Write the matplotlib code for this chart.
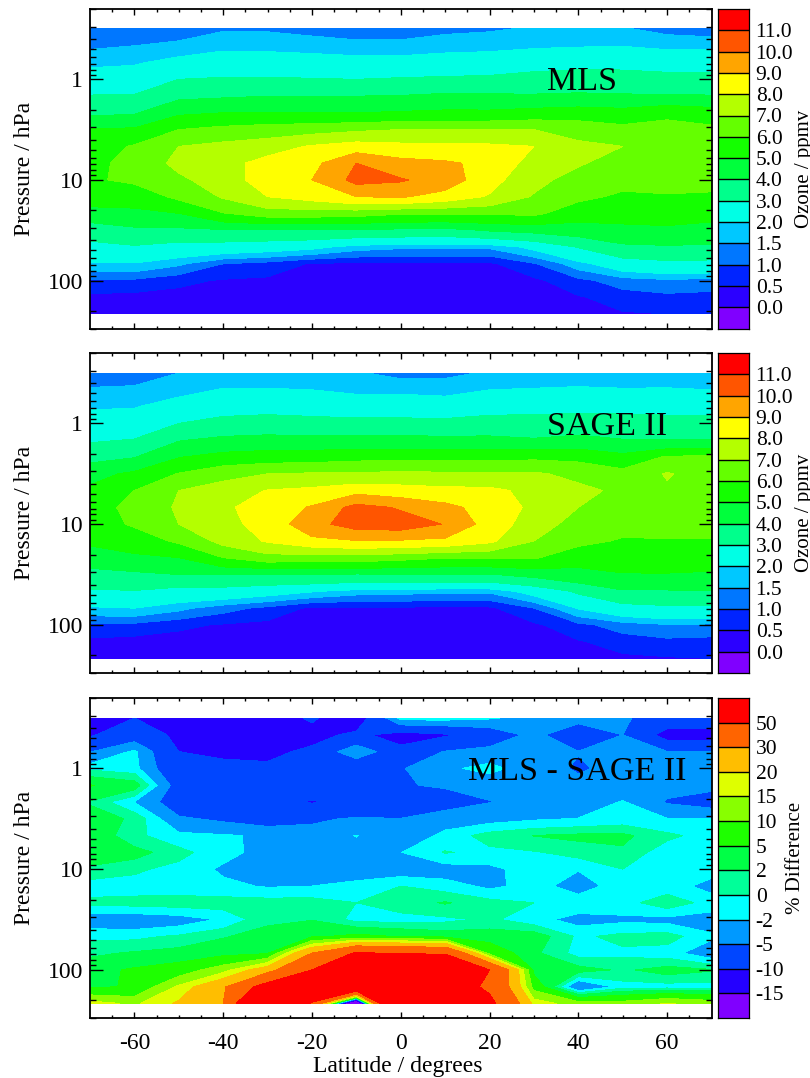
import numpy as np
import matplotlib
matplotlib.use("Agg")
import matplotlib.pyplot as plt
from matplotlib.ticker import FixedLocator, NullFormatter, FixedFormatter

plt.rcParams['font.family'] = ['Liberation Serif', 'DejaVu Serif']
plt.rcParams['axes.unicode_minus'] = False

latitudes = [-70, -60, -50, -40, -30, -20, -10, 0, 10, 20, 30, 40, 50, 60, 70]
pressures = [0.316, 0.464, 0.681, 1.0, 1.47, 2.15, 3.16, 4.64, 6.81, 10.0,
             14.7, 21.5, 31.6, 46.4, 68.1, 100.0, 147.0, 215.0]

# MLS ozone (ppmv), one list per latitude, from 0.316 hPa down to 215 hPa
mls_s70 = [1.1, 1.42, 1.85, 2.4, 3.05, 3.8, 5.1, 5.5, 5.7, 5.9, 5.5, 4.6, 3.4, 2.75, 1.9, .93, .35, .25]
mls_s60 = [1.2, 1.5, 1.92, 2.5, 3.07, 3.9, 5.15, 6.1, 6.35, 6.15, 5.45, 4.75, 3.8, 2.9, 1.95, .9, .3, .25]
mls_s50 = [1.3, 1.6, 2.25, 3.0, 3.8, 4.85, 6.0, 7.0, 7.25, 6.8, 6.2, 5.0, 3.8, 2.6, 1.6, .62, .3, .25]
mls_s40 = [1.45, 1.85, 2.4, 3.1, 3.9, 5.0, 6.3, 7.3, 7.6, 7.5, 7.1, 5.95, 3.9, 2.55, 1.0, .45, .33, .25]
mls_s30 = [1.45, 1.8, 2.45, 3.1, 4.0, 5.05, 6.5, 7.55, 8.4, 8.5, 8.0, 6.5, 3.9, 2.4, .8, .4, .3, .25]
mls_s20 = [1.35, 1.75, 2.35, 3.05, 4.0, 5.0, 6.65, 8.1, 8.7, 9.0, 8.4, 6.5, 3.9, 2.2, .45, .3, .27, .25]
mls_s10 = [1.2, 1.7, 2.25, 3.0, 4.0, 5.0, 6.85, 8.5, 10.0, 10.3, 9.0, 6.4, 3.85, 1.75, .4, .28, .26, .25]
mls_eq = [1.2, 1.7, 2.25, 3.1, 4.05, 5.1, 7.0, 8.3, 9.35, 10.1, 9.1, 6.1, 3.8, 1.6, .4, .28, .26, .25]
mls_n10 = [1.4, 1.75, 2.4, 3.15, 4.2, 5.2, 7.0, 8.25, 9.15, 9.55, 8.6, 6.1, 3.7, 1.6, .4, .28, .26, .25]
mls_n20 = [1.45, 1.8, 2.45, 3.2, 4.15, 5.2, 7.0, 8.2, 8.75, 8.35, 7.9, 6.1, 4.1, 1.6, .4, .28, .26, .25]
mls_n30 = [1.55, 1.9, 2.6, 3.4, 4.1, 5.4, 7.0, 8.0, 7.6, 7.3, 6.9, 6.2, 4.3, 2.2, .95, .38, .3, .25]
mls_n40 = [1.65, 1.95, 2.7, 3.5, 4.15, 5.55, 6.6, 7.25, 7.1, 6.6, 6.2, 5.45, 4.5, 3.05, 1.8, .85, .45, .3]
mls_n50 = [1.55, 1.98, 2.7, 3.45, 4.1, 5.4, 6.3, 7.0, 6.6, 6.25, 5.85, 5.35, 4.75, 3.8, 2.5, 1.25, .72, .45]
mls_n60 = [1.35, 1.85, 2.6, 3.35, 4.1, 5.85, 6.25, 6.5, 6.35, 6.2, 5.95, 5.45, 4.8, 3.9, 2.75, 1.4, .85, .5]
mls_n70 = [1.25, 1.85, 2.55, 3.35, 4.05, 5.55, 6.2, 6.4, 6.4, 6.3, 5.85, 5.3, 4.65, 3.85, 2.7, 1.3, .8, .5]

# SAGE II ozone (ppmv)
sage_s70 = [1.0, 1.6, 1.93, 2.4, 2.9, 3.7, 4.65, 5.2, 5.7, 5.6, 5.1, 4.7, 3.5, 2.9, 1.9, .93, .35, .25]
sage_s60 = [1.25, 1.6, 1.95, 2.5, 3.05, 3.95, 5.2, 6.0, 6.2, 6.1, 5.5, 4.8, 3.8, 2.95, 2.0, .86, .28, .25]
sage_s50 = [1.5, 1.75, 2.4, 3.0, 3.95, 4.95, 6.05, 7.0, 7.15, 7.0, 6.15, 5.0, 4.0, 2.6, 1.65, .6, .28, .25]
sage_s40 = [1.6, 2.05, 2.65, 3.3, 4.25, 5.35, 6.7, 7.45, 7.85, 7.75, 7.3, 6.0, 4.0, 2.6, 1.2, .45, .33, .25]
sage_s30 = [1.6, 2.05, 2.7, 3.4, 4.35, 5.5, 7.0, 8.05, 8.4, 8.3, 8.1, 6.6, 3.95, 2.35, .85, .35, .28, .25]
sage_s20 = [1.65, 2.0, 2.65, 3.3, 4.3, 5.55, 7.1, 8.25, 9.1, 9.7, 8.7, 6.5, 4.0, 2.05, .4, .3, .27, .25]
sage_s10 = [1.55, 1.85, 2.5, 3.3, 4.35, 5.7, 7.1, 8.7, 10.35, 10.4, 8.95, 6.55, 3.9, 1.75, .4, .28, .26, .25]
sage_eq = [1.35, 1.85, 2.5, 3.3, 4.3, 5.75, 7.25, 8.45, 9.9, 10.5, 8.9, 6.3, 3.95, 1.7, .4, .28, .26, .25]
sage_n10 = [1.4, 1.75, 2.5, 3.25, 4.3, 5.7, 7.15, 8.3, 9.3, 9.95, 8.75, 6.05, 3.95, 1.6, .4, .28, .26, .25]
sage_n20 = [1.55, 2.0, 2.65, 3.4, 4.25, 5.7, 7.15, 8.25, 8.55, 8.55, 8.2, 6.05, 3.95, 1.6, .4, .28, .26, .25]
sage_n30 = [1.6, 2.05, 2.7, 3.4, 4.1, 5.8, 7.15, 7.7, 7.8, 7.5, 7.0, 6.1, 4.3, 2.3, 1.0, .4, .3, .25]
sage_n40 = [1.65, 2.1, 2.75, 3.45, 4.3, 5.75, 6.7, 7.3, 7.0, 6.6, 6.25, 5.35, 4.7, 3.15, 2.05, .85, .45, .28]
sage_n50 = [1.6, 2.05, 2.75, 3.4, 4.05, 5.3, 6.35, 6.75, 6.55, 6.3, 5.9, 5.4, 4.95, 3.9, 2.6, 1.25, .7, .4]
sage_n60 = [1.7, 2.05, 2.7, 3.35, 4.05, 6.1, 7.08, 6.85, 6.5, 6.25, 5.95, 5.45, 4.95, 3.9, 2.8, 1.45, .85, .45]
sage_n70 = [1.75, 2.0, 2.7, 3.35, 4.05, 6.2, 6.5, 6.45, 6.35, 6.2, 5.95, 5.5, 4.85, 3.95, 2.8, 1.4, .8, .5]

# MLS - SAGE II difference (%), one list per pressure level, from -70 to 70
diff_p00 = [-12, -10, -12, -12.5, -12, -9.5, -13, -1, -1, -1.7, -3, -3.5, -4.5, -7, -7]
diff_p01 = [-10.5, -7, -11.1, -12, -12, -11.5, -9, -12, -10.5, -8, -3.8, -8.5, -5, -12, -12]
diff_p02 = [-5.2, -1.5, -10, -11, -11.2, -9, -2, -8.5, -4.8, -3.5, -4, -4.9, -3.9, -4.9, -4.9]
diff_p03 = [-.5, -1.15, -8.85, -8.5, -9, -9.2, -10.15, -5.3, -2.5, -1.2, -3.5, -5.4, -4, -3.8, -4]
diff_p04 = [5.2, 3.3, -7, -7, -7.5, -8.2, -8, -5.2, -4.7, -4.2, -4, -4, -4.1, -4, -4.3]
diff_p05 = [1.7, -2.1, -7.3, -8, -8.5, -10.3, -8.7, -8.5, -6.5, -5.1, -4, -3.8, -1.8, -5.3, -6.5]
diff_p06 = [3.5, 1.5, -4.5, -5.6, -6.8, -5.6, -4.6, -4.9, -3.2, -2.9, -2.3, -1.9, -1.2, -1.9, -1.9]
diff_p07 = [3.9, .5, -1.3, -1.7, -2.4, -3.5, -1.9, -4.2, -1.3, .9, 2.05, 2.5, 2.5, .5, -.9]
diff_p08 = [4.5, 2.9, .7, -1.4, -2.7, -3.5, -3.3, -2.05, .15, -.6, -.2, .8, 1.6, -1.3, -1.2]
diff_p09 = [1.2, .4, -.75, -2.35, -4, -5.1, -3.8, -3.3, -3.2, -2.6, -.9, -1.9, 0, -1, -1.2]
diff_p10 = [-.9, -1, -1.1, -1.5, -2.2, -2, -1, 0, -1, -2.5, -1.2, -3, -1, -1, -2.8]
diff_p11 = [.5, .8, 1, 1, 1, 1, 0, 1, 2.2, .8, 0, -.8, -.8, 1.2, -.8]
diff_p12 = [-3.5, -3.8, -3.2, -1.7, 1.5, 1.9, -.7, -.8, -.5, .4, -1.3, -2.8, -2.5, -2.7, -3.2]
diff_p13 = [-.5, -.5, .3, 1.8, 3, 4.3, 6, 4.7, 3.5, 3.5, 3.4, -.45, .65, .9, -1.6]
diff_p14 = [1.5, 2.3, 3, 3.8, 4.5, 30, 52, 48, 48, 8, 2.5, -.8, -.5, -1.1, -3.6]
diff_p15 = [3.8, 5.5, 7, 13, 25, 50, 100, 100, 90, 50, 4, 3, 1.6, 3, 2.2]
diff_p16 = [4.5, 5.3, 16, 28, 60, 70, 75, 52, 60, 47, 8, -5.5, -1, -1, -1]
diff_p17 = [17, 14, 21, 30, 97, 48, -40, 130, 120, 55, 18, 12, 12, 15.5, 13]

ozone_levels = [0, .5, 1, 1.5, 2, 3, 4, 5, 6, 7, 8, 9, 10, 11]
ozone_labels = ['0.0', '0.5', '1.0', '1.5', '2.0', '3.0', '4.0', '5.0', '6.0', '7.0', '8.0', '9.0', '10.0', '11.0']
diff_levels = [-15, -10, -5, -2, 0, 2, 5, 10, 15, 20, 30, 50]
diff_labels = ['-15', '-10', '-5', '-2', '0', '2', '5', '10', '15', '20', '30', '50']

ozone_colors = ['#8000ff', '#2b00ff', '#0024ff', '#0077ff', '#00c8ff', '#00ffe5', '#00ff8c',
                '#00ff3c', '#14ff00', '#64ff00', '#b4ff00', '#ffff00', '#ffa500', '#ff5500', '#ff0000']
diff_colors = ['#8000ff', '#2400ff', '#0046ff', '#0099ff', '#00ffff', '#00ff99', '#00ff46',
               '#1eff00', '#88ff00', '#deff00', '#ffbe00', '#ff6400', '#ff0000']

mls = np.array([mls_s70, mls_s60, mls_s50, mls_s40, mls_s30, mls_s20, mls_s10, mls_eq,
                mls_n10, mls_n20, mls_n30, mls_n40, mls_n50, mls_n60, mls_n70]).T
sage = np.array([sage_s70, sage_s60, sage_s50, sage_s40, sage_s30, sage_s20, sage_s10, sage_eq,
                 sage_n10, sage_n20, sage_n30, sage_n40, sage_n50, sage_n60, sage_n70]).T
diff = np.array([diff_p00, diff_p01, diff_p02, diff_p03, diff_p04, diff_p05, diff_p06, diff_p07, diff_p08,
                 diff_p09, diff_p10, diff_p11, diff_p12, diff_p13, diff_p14, diff_p15, diff_p16, diff_p17])

W, H = 810, 1078
fig = plt.figure(figsize=(W / 100, H / 100), dpi=100, facecolor='white')
TICK = 17


def rect(x0, y0, x1, y1):
    return [x0 / W, 1 - y1 / H, (x1 - x0) / W, (y1 - y0) / H]


def panel(top, bottom, data, levels, colors, labels, name, name_x, cb_label, cb_x, xlabels):
    ax = fig.add_axes(rect(90, top, 711.5, bottom))
    ax.contourf(latitudes, pressures, data, levels=levels, colors=colors, extend='both')
    ax.set_yscale('log')
    ax.set_xlim(-70, 70)
    ax.set_ylim(300, 0.2)
    for s in ax.spines.values():
        s.set_linewidth(1.3)
    ax.xaxis.set_major_locator(FixedLocator([-60, -40, -20, 0, 20, 40, 60]))
    ax.xaxis.set_minor_locator(FixedLocator(list(range(-65, 70, 5))))
    ax.yaxis.set_major_locator(FixedLocator([1, 10, 100]))
    ax.yaxis.set_major_formatter(FixedFormatter(['1', '10', '100']))
    ax.yaxis.set_minor_locator(FixedLocator([.2, .3, .4, .5, .6, .7, .8, .9, 2, 3, 4, 5, 6, 7, 8, 9,
                                             20, 30, 40, 50, 60, 70, 80, 90, 200, 300]))
    ax.yaxis.set_minor_formatter(NullFormatter())
    ax.tick_params(axis='x', which='major', direction='in', top=True, bottom=True, length=4.2, width=1.0,
                   labelsize=TICK, pad=11, labelbottom=xlabels)
    ax.tick_params(axis='x', which='minor', direction='in', top=True, bottom=True, length=2.3, width=1.0)
    ax.tick_params(axis='y', which='major', direction='in', left=True, right=True, length=9.2, width=1.0,
                   labelsize=TICK, pad=5)
    ax.tick_params(axis='y', which='minor', direction='in', left=True, right=True, length=4.6, width=1.0)
    ax.set_ylabel('Pressure / hPa', fontsize=TICK)
    ax.yaxis.set_label_coords(-0.088, 0.5)
    ax.text(name_x, 0.745, name, transform=ax.transAxes, fontsize=24.5, ha='left', va='baseline', color='black')

    cax = fig.add_axes(rect(717.5, top, 748.7, bottom))
    edges = np.arange(len(colors) + 1)
    cax.pcolormesh([0, 1], edges, np.arange(len(colors)).reshape(-1, 1),
                   cmap=matplotlib.colors.ListedColormap(colors), vmin=0, vmax=len(colors))
    cax.hlines(edges[1:-1], 0, 1, color='black', lw=1.0)
    cax.set_xlim(0, 1)
    cax.set_ylim(0, len(colors))
    cax.set_xticks([])
    cax.yaxis.tick_right()
    cax.set_yticks(edges[1:-1])
    cax.set_yticklabels(labels, fontsize=15.5)
    cax.tick_params(axis='y', length=0, pad=5)
    for s in cax.spines.values():
        s.set_linewidth(0.9)
    fig.text(cb_x / W, 1 - (top + bottom) / 2 / H, cb_label, rotation=90, fontsize=15,
             ha='center', va='center', color='black')
    return ax


panel(9, 328.5, mls, ozone_levels, ozone_colors, ozone_labels, 'MLS', 0.735, 'Ozone / ppmv', 804, False)
panel(353, 673, sage, ozone_levels, ozone_colors, ozone_labels, 'SAGE II', 0.735, 'Ozone / ppmv', 804, False)
ax3 = panel(698, 1018, diff, diff_levels, diff_colors, diff_labels, 'MLS - SAGE II', 0.608, '% Difference', 795, True)
ax3.set_xlabel('Latitude / degrees', fontsize=TICK)
ax3.xaxis.set_label_coords(0.495, -0.12)

fig.savefig('out.png', dpi=100, facecolor='white')
